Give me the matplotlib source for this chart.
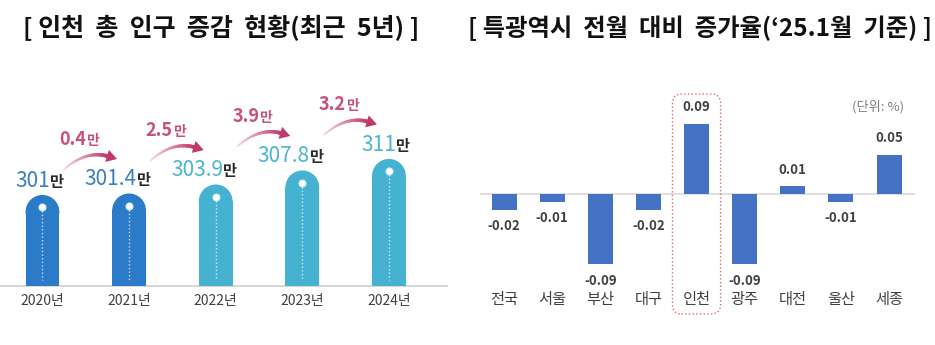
import numpy as np
import matplotlib.pyplot as plt
from matplotlib import transforms
from matplotlib.patches import Ellipse, Polygon, FancyBboxPatch
from matplotlib.collections import LineCollection
from matplotlib.colors import LinearSegmentedColormap

plt.rcParams['font.family'] = ['Noto Sans CJK KR', 'DejaVu Sans']

# 인천 총 인구 (만명)
years = ['2020년', '2021년', '2022년', '2023년', '2024년']
population = [301, 301.4, 303.9, 307.8, 311]
pop_text = ['301', '301.4', '303.9', '307.8', '311']
increase_text = ['0.4', '2.5', '3.9', '3.2']

# 특광역시 전월 대비 증가율 (%)
cities = ['전국', '서울', '부산', '대구', '인천', '광주', '대전', '울산', '세종']
rates = [-0.02, -0.01, -0.09, -0.02, 0.09, -0.09, 0.01, -0.01, 0.05]

W, H = 935, 345
fig = plt.figure(figsize=(W / 100, H / 100), dpi=100)


def px_box(x0, top, x1, bottom):
    return [x0 / W, 1 - bottom / H, (x1 - x0) / W, (bottom - top) / H]


ax1 = fig.add_axes(px_box(0, 50, 447, 286))
ax2 = fig.add_axes(px_box(480, 60, 915, 290))
for ax in (ax1, ax2):
    for s in ax.spines.values():
        s.set_visible(False)
    ax.set_yticks([])

fig.text(0.236, 0.919, '[ 인천  총  인구  증감  현황(최근  5년) ]', ha='center', va='center',
         fontsize=18, fontweight='bold', color='#111111')
fig.text(0.749, 0.919, "[ 특광역시  전월  대비  증가율(‘25.1월  기준) ]", ha='center', va='center',
         fontsize=17.5, fontweight='bold', color='#111111')

# ---------------- 왼쪽: 인구 막대 ----------------
floor = 275.7
ax1.set_xlim(-0.49, 4.67)
ax1.set_ylim(floor, floor + 236 / 3.6)
x = np.arange(len(years))
bw = 0.39

p0 = ax1.transData.transform((0, 0))
p1 = ax1.transData.transform((1, 1))
pxx, pxy = p1[0] - p0[0], p1[1] - p0[1]
r_y = bw * pxx / 2 / pxy

bar_cols = ['#2c7bc9', '#2c7bc9', '#45b2d2', '#45b2d2', '#45b2d2']
num_cols = ['#3a7fc2', '#3a7fc2', '#4bb5cf', '#4bb5cf', '#4bb5cf']

ax1.axhline(floor, color='#cfcfcf', lw=1.2, clip_on=False, zorder=1)
for i, v in enumerate(population):
    ax1.bar(x[i], v - r_y - floor, bottom=floor, width=bw, color=bar_cols[i], lw=0, zorder=2)
    ax1.add_patch(Ellipse((x[i], v - r_y), bw, 2 * r_y, color=bar_cols[i], lw=0, zorder=2))
    dot_y = v - 12.5 / pxy
    ax1.plot([x[i], x[i]], [dot_y, floor + 6 / pxy], color='white', alpha=0.75, lw=1,
             ls=(0, (1, 1.6)), zorder=3)
    ax1.plot(x[i], dot_y, 'o', ms=5, mfc='white', mec='#d8eef8', mew=0.8, zorder=4)
    ax1.annotate(pop_text[i], (x[i], v), xytext=(5.4, 6), textcoords='offset points',
                 ha='right', va='baseline', fontsize=15, color=num_cols[i])
    ax1.annotate('만', (x[i], v), xytext=(5.4, 6), textcoords='offset points',
                 ha='left', va='baseline', fontsize=11, fontweight='bold', color='#2a2a2a')

ax1.set_xticks(x, years)
ax1.tick_params(axis='x', length=0, pad=6, labelsize=10, labelcolor='#404040')

# 증가량 화살표
pink = '#c8507e'
cmap = LinearSegmentedColormap.from_list('arrow', ['#f7d6e2', '#c2386d'])
scale = transforms.Affine2D().scale(fig.dpi / 72)
for i, txt in enumerate(increase_text):
    xa, ya = x[i + 1], population[i + 1]
    tr = scale + transforms.ScaledTranslation(xa, ya, ax1.transData)
    a0 = np.array([-46.8, 17.3])
    a2 = np.array([-14.4, 26.6])
    a1 = np.array([(a0[0] + a2[0]) / 2, a2[1] + 5])
    t = np.linspace(0, 1, 30)[:, None]
    pts = (1 - t) ** 2 * a0 + 2 * (1 - t) * t * a1 + t ** 2 * a2
    segs = np.stack([pts[:-1], pts[1:]], axis=1)
    lc = LineCollection(segs, colors=cmap(np.linspace(0, 1, len(segs))),
                        linewidths=np.linspace(1.2, 2.8, len(segs)), transform=tr,
                        capstyle='round', zorder=3)
    ax1.add_collection(lc, autolim=False)
    d = (a2 - a1) / np.linalg.norm(a2 - a1)
    n = np.array([-d[1], d[0]])
    tip = a2 + d * 6
    base = a2 - d * 1.5
    ax1.add_patch(Polygon([tip, base + n * 4.5, base - n * 4.5], closed=True,
                          transform=tr, color='#c2386d', lw=0, zorder=3))
    ax1.annotate(txt, (xa, ya), xytext=(-31, 35), textcoords='offset points',
                 ha='right', va='baseline', fontsize=13, fontweight='bold', color=pink)
    ax1.annotate('만', (xa, ya), xytext=(-31, 35), textcoords='offset points',
                 ha='left', va='baseline', fontsize=10, fontweight='bold', color=pink)

# ---------------- 오른쪽: 증가율 막대 ----------------
ax2.set_xlim(-0.5, 8.54)
ax2.set_ylim(-0.1231, 0.1718)
xc = np.arange(len(cities))
ax2.axhline(0, color='#d9d9d9', lw=1.2, zorder=0)
ax2.bar(xc, rates, width=0.52, color='#4472c4', lw=0, zorder=2)
for i, v in enumerate(rates):
    off = 12 if v > 0 else -12
    ax2.annotate(f'{v:.2f}', (xc[i], v), xytext=(0, off), textcoords='offset points',
                 ha='center', va='center', fontsize=9.5, fontweight='bold', color='#404040')

ax2.set_xticks(xc, cities)
ax2.tick_params(axis='x', length=0, pad=1, labelsize=11, labelcolor='#404040')
ax2.text(0.915, 0.796, '(단위: %)', transform=ax2.transAxes, ha='center', va='center',
         fontsize=9.5, color='#7f7f7f')

# 인천 강조 박스
hi = cities.index('인천')
bx0 = ax2.transData.transform((hi - 0.5, 0))[0]
bx1 = ax2.transData.transform((hi + 0.5, 0))[0]
by0 = ax2.transAxes.transform((0, -0.104))[1]
by1 = ax2.transAxes.transform((0, 0.852))[1]
fig.add_artist(FancyBboxPatch((bx0, by0), bx1 - bx0, by1 - by0,
                              boxstyle='round,pad=0,rounding_size=9',
                              transform=transforms.IdentityTransform(),
                              fill=False, ec='#e06b6b', lw=1, ls=':'))

fig.savefig('out.png', dpi=100)
